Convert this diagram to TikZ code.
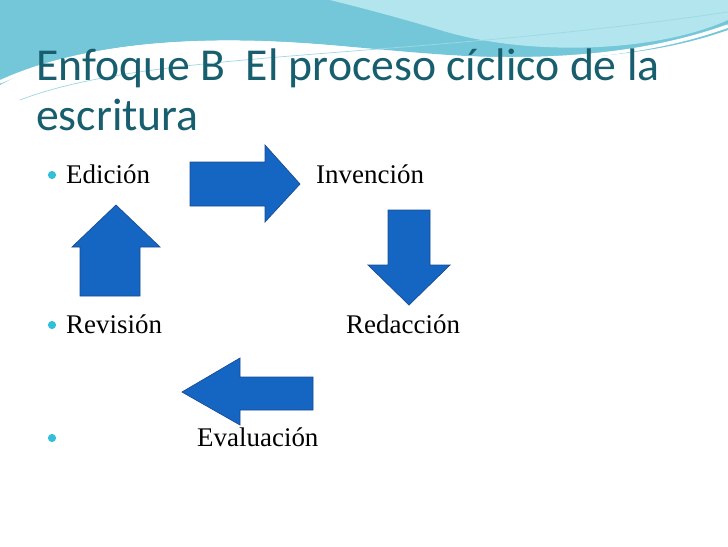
\documentclass[tikz,border=0pt]{standalone}
\usepackage{fontspec}
\setmainfont{Liberation Serif}
\newfontfamily\titlefont{Carlito}
\usetikzlibrary{positioning}
\definecolor{ctitle}{rgb}{0.09,0.37,0.43}
\definecolor{carrow}{rgb}{0.08,0.40,0.76}
\definecolor{cedge}{rgb}{0.10,0.30,0.58}
\definecolor{cwave}{rgb}{0.45,0.78,0.85}
\definecolor{cwavel}{rgb}{0.70,0.90,0.93}
\definecolor{cbullet}{rgb}{0.20,0.75,0.85}
\tikzset{
  bigarrow/.style={fill=carrow,draw=cedge,line width=0.6pt},
  item/.style={anchor=base west,inner sep=0pt,font=\fontsize{23}{26}\selectfont},
  heading/.style={anchor=base west,inner sep=0pt,text=ctitle,font=\titlefont\fontsize{39}{46}\selectfont},
  dot/.style={circle,fill=cbullet,inner sep=0pt,minimum size=7pt}
}
\begin{document}
\begin{tikzpicture}[x=0.03cm,y=-0.03cm]
\useasboundingbox (0,0) rectangle (728,546);
\fill[white] (0,0) rectangle (728,546);
% waves
\fill[cwave] (0,0) -- (728,0) -- (728,30) .. controls (600,75) and (450,55) .. (330,45)
  .. controls (200,35) and (80,40) .. (0,85) -- cycle;
\fill[cwavel] (330,0) -- (728,0) -- (728,20) .. controls (650,55) and (520,55) .. (440,30)
  .. controls (390,15) and (350,5) .. (330,0) -- cycle;
\draw[white,line width=3pt] (0,82) .. controls (80,45) and (200,35) .. (330,47)
  .. controls (450,60) and (600,72) .. (728,26);
\draw[cwave!70,line width=0.6pt] (20,100) .. controls (150,50) and (400,60) .. (728,12);
% title
\node[heading] (title1) at (36,80) {Enfoque B\ \ El proceso cíclico de la};
\node[heading] (title2) at (36,130) {escritura};
% items
\node[dot] (b1) at (52,175) {};
\node[dot] (b2) at (52,325) {};
\node[dot] (b3) at (52,438) {};
\node[item] (edicion) at (66,183) {Edición};
\node[item] (invencion) at (316,183) {Invención};
\node[item] (revision) at (66,333) {Revisión};
\node[item] (redaccion) at (346,333) {Redacción};
\node[item] (evaluacion) at (197,446) {Evaluación};
% arrows
\draw[bigarrow] (190,162) -- (265,162) -- (265,145) -- (300,184) -- (265,222)
  -- (265,206) -- (190,206) -- cycle;
\draw[bigarrow] (388,210) -- (430,210) -- (430,265) -- (450,265) -- (409,305)
  -- (368,265) -- (388,265) -- cycle;
\draw[bigarrow] (80,296) -- (80,247) -- (72,247) -- (116,205) -- (160,247)
  -- (140,247) -- (140,296) -- cycle;
\draw[bigarrow] (313,377) -- (240,377) -- (240,358) -- (182,392) -- (240,425)
  -- (240,410) -- (313,410) -- cycle;
\end{tikzpicture}
\end{document}
